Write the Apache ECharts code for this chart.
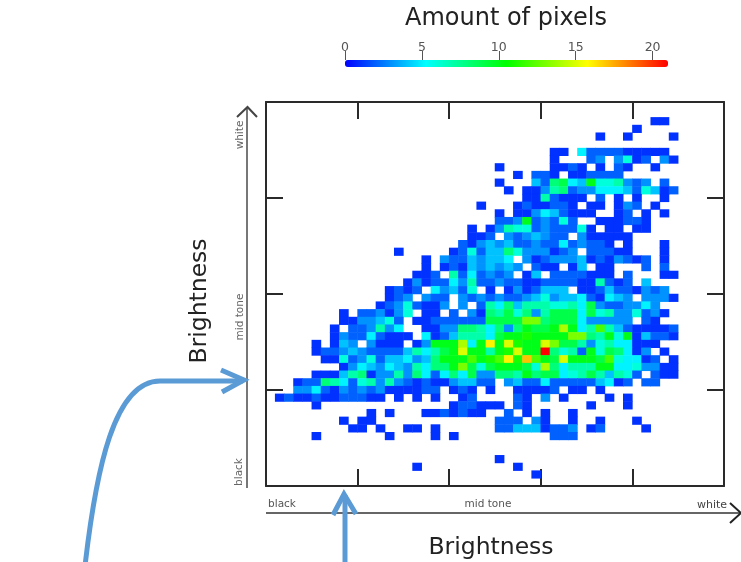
<!DOCTYPE html>
<html><head><meta charset="utf-8">
<style>html,body{margin:0;padding:0;background:#fff}#c{width:741px;height:562px;filter:blur(0.5px)}</style>
<script src="https://cdn.jsdelivr.net/npm/echarts@6/dist/echarts.min.js"></script>
</head><body><div id="c"></div>
<script>
// Counts per bin. "start:chars": column of the first char, then
// base-36 counts (a=10 ... l=21), "." = empty bin.
const rowsTop = [
 [47,"42:11"],[46,"40:1"],[45,"36:1 39:1 44:1"],
 [43,"31:11.5222211111"],[42,"31:1...23.3612.31"],[41,"25:1 31:1121.1.21..1"],
 [40,"27:1 29:221.112222"],[39,"25:1 29:428954a667323.2"],[38,"26:1 28:11378233555426412"],
 [37,"28:1172111.2.1.1 43:1"],[36,"23:1 27:1211221.11.132.1"],[35,"25:1 27:113542111..12.1.1"],
 [34,"25:223a23262..111221"],[33,"22:1 24:137662322261.11.11"],[32,"22:112.3234322.311111"],
 [31,"21:21343422322523221.1 43:1"],[30,"14:1 20:12624486333123.22211 43:1"],
 [29,"17:1.32243445.31233341213212 43:1"],[28,"17:1.121434343.211.14.11 41:2 43:2"],
 [27,"16:112.7252323.14.2222111.2 43:11"],[26,"15:1312253722322112222117212.4"],
 [25,"13:1212.53426.1.1312444.1124221323"]
];
const rowsMiddle = [
 [24,"13:123.322.3232322346344521543.3331"],
 [23,"12:12362113.3.27584777667593223353"],
 [22,"8:1.223136.11.2.3187968379995967336231"],
 [21,"8:1133462.112222229999dd8999533333.21"],
 [20,"7:1.223735..11338875838a99aea57c74211112"],
 [19,"7:132252111.512477759aabaaaadd87a6a14221"],
 [18,"5:1.143.3111.13aaae5agafbaafd99736755111"],
 [17,"5:122343222247579afaa7abfaal8672a698513.1"],
 [16,"6:1162362445348aaacabcgbhca9faaa9c65512.1"],
 [15,"8:135435437588ad969aaa96e85777aa5563311"],
 [14,"5:11147813373852585933887a899567974762.211"],
 [13,"3:1228752673732121134422.34225222224512.22"]
];
const rowsBottom = [
 [12,"3:3352132323111122.121.1 27:11112.11.1"],
 [11,"1:121121122211.1.1.1 21:12 27:21.3.1 37:1.1"],
 [10,"5:1 20:122111 27:21 35:1 39:1"],
 [9,"11:1.1 17:1121211 26:2.1.1 33:1"],
 [8,"8:1.11 25:222.31 33:1 36:1 40:1"],
 [7,"9:11.1 15:11.1 25:224441223.12 41:1"],
 [6,"5:1 13:1 18:1.1 31:222"],
 [3,"25:1"],[2,"16:1 27:1"],[1,"29:1"]
];
const xBins = Array.from({length:50},(_,i)=>i);
const yBins = Array.from({length:50},(_,i)=>i);
const scaleTicks = [0,5,10,15,20];
const palette = ['#0000ff','#00ffff','#00ff00','#ffff00','#ff0000'];

const cells = [];
[...rowsTop,...rowsMiddle,...rowsBottom].forEach(([row,txt])=>{
  txt.split(' ').forEach(seg=>{
    const [s,chars]=seg.split(':');
    [...chars].forEach((ch,i)=>{ if(ch!=='.') cells.push([+s+i,row,parseInt(ch,36)]); });
  });
});

const frame={left:266,top:102,width:458,height:384};
const box=(o)=>Object.assign({type:'value',min:0,axisLabel:{show:false},splitLine:{show:false},
  axisLine:{show:true,onZero:false,lineStyle:{color:'#2a2a2a',width:2}},
  axisTick:{show:true,inside:true,length:17,lineStyle:{color:'#2a2a2a',width:2}}},o);
const lbl=(text,x,y,size,color,rot)=>({type:'text',x,y,rotation:rot||0,
  style:{text,fontFamily:'DejaVu Sans',fontSize:size,fill:color,align:'center',verticalAlign:'middle'}});
const blue='#5b9bd5';
const stroke=(pts,color,w)=>({type:'polyline',shape:{points:pts},style:{stroke:color,lineWidth:w,fill:null}});

const chart=echarts.init(document.getElementById('c'),null,{renderer:'canvas'});
chart.setOption({
  animation:false,backgroundColor:'#fff',
  grid:[
    Object.assign({},frame),
    Object.assign({},frame),
    {left:345,top:60,width:323,height:7}
  ],
  xAxis:[
    {type:'category',gridIndex:0,data:xBins,show:false},
    box({gridIndex:1,position:'bottom',max:250,interval:50}),
    box({gridIndex:1,position:'top',max:250,interval:50}),
    {type:'value',gridIndex:2,position:'top',min:0,max:21,splitLine:{show:false},
     axisLine:{show:false,onZero:false},
     axisTick:{show:true,length:9,customValues:scaleTicks,lineStyle:{color:'#555',width:1}},
     axisLabel:{show:true,margin:6,color:'#555',fontFamily:'DejaVu Sans',fontSize:12.5,
       customValues:scaleTicks,hideOverlap:false}}
  ],
  yAxis:[
    {type:'category',gridIndex:0,data:yBins,show:false},
    box({gridIndex:1,position:'left',max:200,interval:50}),
    box({gridIndex:1,position:'right',max:200,interval:50}),
    {type:'value',gridIndex:2,show:false,min:0,max:1}
  ],
  visualMap:{type:'continuous',min:0,max:21,dimension:2,seriesIndex:0,orient:'horizontal',
    left:345,top:60,itemWidth:7,itemHeight:323,padding:0,calculable:false,text:null,showLabel:false,
    hoverLink:false,inRange:{color:palette}},
  series:[{type:'heatmap',xAxisIndex:0,yAxisIndex:0,data:cells,progressive:0,
    itemStyle:{borderWidth:0},emphasis:{disabled:true}}],
  graphic:[
    lbl('Amount of pixels',506,19,24,'#222'),
    lbl('Brightness',491,548,23.5,'#222'),
    lbl('Brightness',200,301,23.5,'#222',Math.PI/2),
    lbl('black',282,504,10.5,'#555'),
    lbl('mid tone',488,504,10.5,'#555'),
    lbl('white',712,505,11,'#444'),
    lbl('white',240,135,10.5,'#666',Math.PI/2),
    lbl('mid tone',240,317,10.5,'#666',Math.PI/2),
    lbl('black',239,472,10.5,'#666',Math.PI/2),
    stroke([[247,488],[247,107]],'#777',2),
    stroke([[237,117],[247.5,107],[257,117]],'#444',2),
    stroke([[266,513],[740,513]],'#333',1.5),
    stroke([[730,503],[741,513],[730,523]],'#222',2),
    {type:'bezierCurve',shape:{x1:85,y1:566,cpx1:96,cpy1:470,cpx2:114,cpy2:381,x2:160,y2:381},style:{stroke:blue,lineWidth:5,fill:null}},
    stroke([[160,381],[243,381]],blue,5),
    stroke([[221,370],[244,380],[222,392]],blue,5),
    stroke([[345,562],[345,495]],blue,5),
    stroke([[333,515],[344,494],[356,514]],blue,5)
  ]
});
</script></body></html>
